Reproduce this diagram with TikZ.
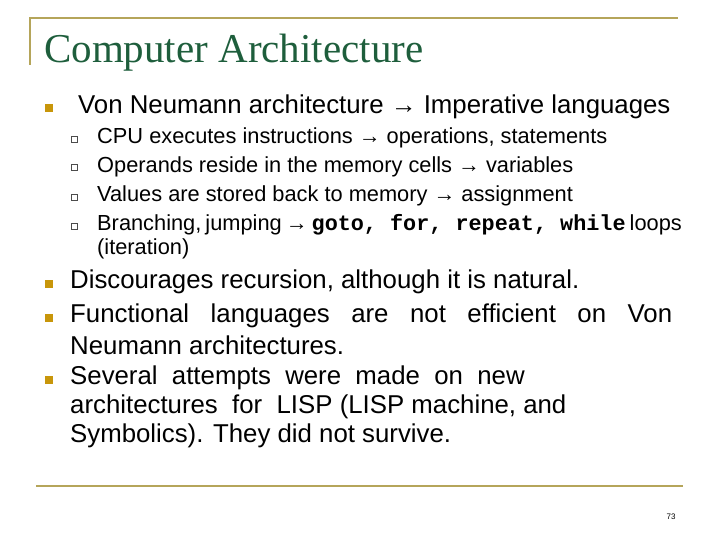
\documentclass[tikz,border=0pt]{standalone}
\usepackage{fontspec}
\setmainfont{Liberation Sans}
\newfontfamily\titlefont{Liberation Serif}
\setmonofont{Liberation Mono}
\definecolor{gold}{HTML}{B5A55A}
\definecolor{bul}{HTML}{C8960A}
\definecolor{tgreen}{HTML}{1E5E3C}
\begin{document}
\begin{tikzpicture}[x=1pt,y=-1pt,
  l1/.style={anchor=west,inner sep=0pt,font=\fontsize{25.8}{27}\selectfont},
  l2/.style={anchor=west,inner sep=0pt,font=\fontsize{21.8}{23}\selectfont},
  b1/.style={fill=bul,minimum size=8pt,inner sep=0pt},
  b2/.style={draw=black!70,line width=0.6pt,fill=white,minimum size=6pt,inner sep=0pt},
  frame/.style={draw=gold,line width=2.2pt}]
\useasboundingbox (0,0) rectangle (720,540);
\coordinate (t0) at (30,65); \coordinate (t1) at (30,18); \coordinate (t2) at (678,18);
\draw[frame] (t0) -- (t1) -- (t2);
\coordinate (u0) at (36,486); \coordinate (u1) at (683,486);
\draw[frame] (u0) -- (u1);
\node[anchor=west,inner sep=0pt,text=tgreen,font=\titlefont\fontsize{41}{42}\selectfont] (title) at (44,53) {Computer Architecture};
\node[b1] (p1) at (49,108) {};
\node[l1] (t1x) at (78,107) {Von Neumann architecture → Imperative languages};
\node[b2] (q1) at (74,139) {};
\node[l2] (s1) at (97,138) {CPU executes instructions → operations, statements};
\node[b2] (q2) at (74,167) {};
\node[l2] (s2) at (97,167) {Operands reside in the memory cells → variables};
\node[b2] (q3) at (74,197) {};
\node[l2] (s3) at (97,196) {Values are stored back to memory → assignment};
\node[b2] (q4) at (74,226) {};
\node[l2] (s4) at (97,225) {\makebox[580pt][s]{Branching,\ jumping → {\ttfamily\bfseries goto, for, repeat, while} loops}};
\node[l2] (s5) at (97,249) {(iteration)};
\node[b1] (p2) at (49,284) {};
\node[l1] (a1) at (70,282) {Discourages recursion, although it is natural.};
\node[b1] (p3) at (49,318) {};
\node[l1] (a2) at (70,316) {\makebox[602pt][s]{Functional languages are not efficient on Von}};
\node[l1] (a3) at (70,345) {Neumann architectures.};
\node[b1] (p4) at (49,380) {};
\node[l1] (a4) at (70,378) {Several\ \ attempts\ \ were\ \ made\ \ on\ \ new};
\node[l1] (a5) at (70,407) {architectures\ \ for\ \ LISP (LISP machine, and};
\node[l1] (a6) at (70,436) {Symbolics). They did not survive.};
\node[anchor=center,inner sep=0pt,font=\fontsize{8}{9}\selectfont] (pg) at (671,517) {73};
\end{tikzpicture}
\end{document}
